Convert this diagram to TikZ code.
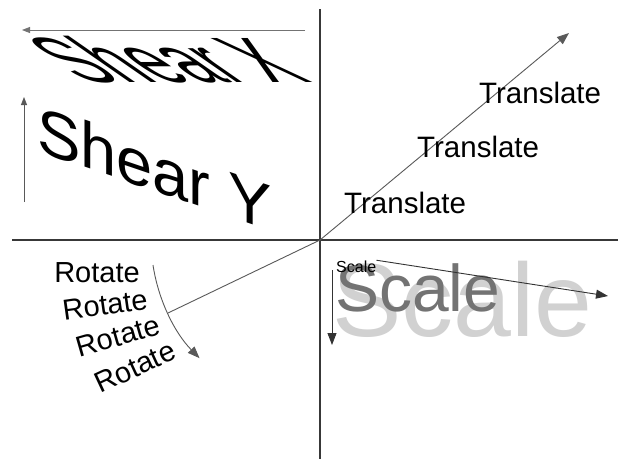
\documentclass[tikz,border=0pt]{standalone}
\usepackage{fontspec}
\setmainfont{Liberation Sans}
\usetikzlibrary{arrows.meta}
\begin{document}
\begin{tikzpicture}[x=1pt,y=-1pt,
  axis/.style={draw=black!78, line width=2pt},
  guide/.style={draw=black!65, line width=0.9pt},
  tip/.style={-{Triangle[length=12pt,width=9pt]}},
  smalltip/.style={-{Triangle[length=8pt,width=6pt]}},
  word/.style={inner sep=0pt, anchor=base west, font=\fontsize{29.5}{29.5}\selectfont},
  rot/.style={inner sep=0pt, anchor=center, font=\fontsize{29}{29}\selectfont},
  big/.style={inner sep=0pt, anchor=base west, font=\fontsize{64}{64}\selectfont},
]
\useasboundingbox[fill=white] (0,0) rectangle (618,459);

% axes
\coordinate (O) at (320,240);
\coordinate (axN) at (320,9);
\coordinate (axS) at (320,459);
\coordinate (axW) at (12,240);
\coordinate (axE) at (618,240);
\draw[axis] (axN) -- (axS);
\draw[axis] (axW) -- (axE);

% translate
\coordinate (trEnd) at (569,33);
\draw[guide,tip] (O) -- (trEnd);
\node[word] (tr1) at (479,103) {Translate};
\node[word] (tr2) at (417,157) {Translate};
\node[word] (tr3) at (344,213) {Translate};

% shear x
\node[big, xslant=-1.44] (shx) at (83,82) {Shear X};
\coordinate (sxA) at (305,30);
\coordinate (sxB) at (22,30);
\draw[guide, draw=black!55, smalltip] (sxA) -- (sxB);

% shear y
\node[big, font=\fontsize{65}{65}\selectfont, yslant=-0.34] (shy) at (37,151) {Shear Y};
\coordinate (syA) at (24,202);
\coordinate (syB) at (24,97);
\draw[guide, smalltip] (syA) -- (syB);

% rotate
\node[rot] (r1) at (97,273) {Rotate};
\node[rot, rotate=8] (r2) at (105,305) {Rotate};
\node[rot, rotate=16] (r3) at (118,336) {Rotate};
\node[rot, rotate=25] (r4) at (135,367) {Rotate};
\coordinate (arcA) at (153,265);
\coordinate (arcM) at (168,313);
\draw[guide, tip] (arcA) arc[start angle=188.6, end angle=224.5, radius=169pt];
\draw[guide] (O) -- (arcM);

% scale
\node[inner sep=0pt, anchor=base west, text=black!18, font=\fontsize{104}{104}\selectfont] (scL) at (332,336) {Scale};
\node[inner sep=0pt, anchor=base west, text=black!55, font=\fontsize{66}{66}\selectfont] (scM) at (335,311) {Scale};
\node[inner sep=0pt, anchor=base west, font=\fontsize{16}{16}\selectfont] (scS) at (336,272) {Scale};
\coordinate (scD1) at (332,270);
\coordinate (scD2) at (332,345);
\coordinate (scR2) at (608,296);
\draw[guide, draw=black!80, tip] (scD1) -- (scD2);
\draw[guide, draw=black!80, tip] (scS.north east) -- (scR2);
\end{tikzpicture}
\end{document}
